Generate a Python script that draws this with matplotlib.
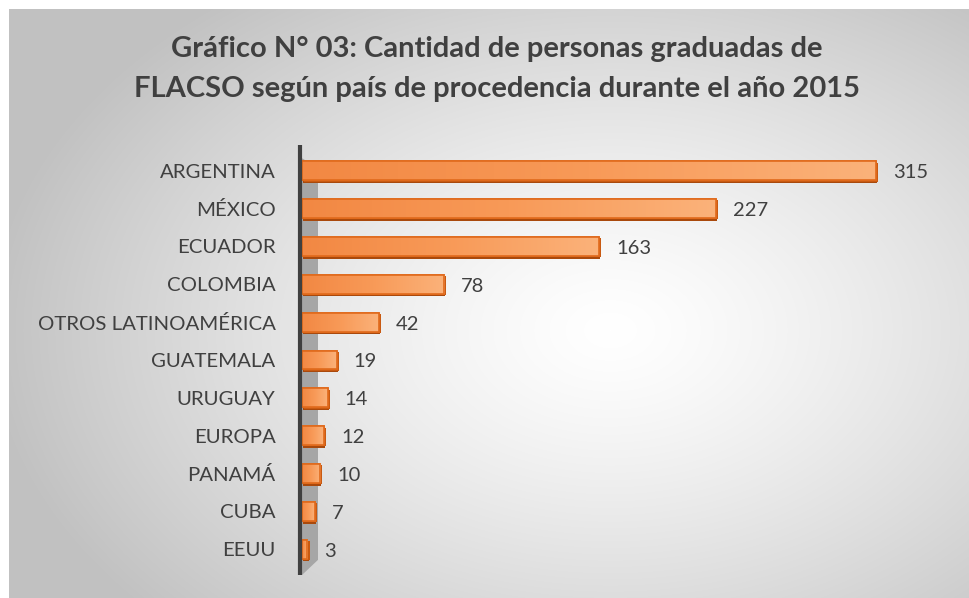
import numpy as np
import matplotlib
matplotlib.use("Agg")
import matplotlib.pyplot as plt
from matplotlib.patches import Polygon, Rectangle
from matplotlib.colors import LinearSegmentedColormap

categories = ["ARGENTINA", "MÉXICO", "ECUADOR", "COLOMBIA", "OTROS LATINOAMÉRICA",
              "GUATEMALA", "URUGUAY", "EUROPA", "PANAMÁ", "CUBA", "EEUU"]
values = [315, 227, 163, 78, 42, 19, 14, 12, 10, 7, 3]
title = "Gráfico N° 03: Cantidad de personas graduadas de\nFLACSO según país de procedencia durante el año 2015"

W, H = 970, 598
fig = plt.figure(figsize=(W / 100, H / 100), dpi=100)
fig.patch.set_facecolor("white")

# background radial gradient panel
bg = fig.add_axes([0, 0, 1, 1], zorder=-10)
bg.set_xlim(0, W); bg.set_ylim(H, 0); bg.axis("off")
yy, xx = np.mgrid[0:H, 0:W]
cx, cy = 610, 330
r = np.sqrt(((xx - cx) / 620.0) ** 2 + ((yy - cy) / 420.0) ** 2)
g = np.clip(1.0 - 0.24 * r ** 1.3, 0.76, 1.0)
img = np.dstack([g, g, g])
img[:9, :, :] = 1.0
img[:, :9, :] = 1.0
bg.imshow(img, extent=(0, W, H, 0), interpolation="bilinear", aspect="auto")

fig.text(497 / W, 1 - 69 / H, title, ha="center", va="center", fontsize=21,
         fontweight="bold", color="#404040", family=["Lato", "DejaVu Sans"],
         linespacing=1.62)

ax_left, ax_right = 297 / W, 960 / W
ax = fig.add_axes([ax_left, 23 / H, ax_right - ax_left, 430 / H])
ax.set_facecolor("none")
px = 1.822  # px per unit
xlim = (-5 / px, (960 - 297 - 5) / px)
ylim = (10.68, -0.68)

y = np.arange(len(categories))
bh = 0.5
dy = 0.07

# depth (shadow) bars
ax.barh(y + dy, values, height=bh, left=0.6, color="#A9490C", edgecolor="none", zorder=2)
ax.barh(y + dy * 0.5, values, height=bh, left=1.2, color="#C85A12", edgecolor="none", zorder=2)
bars = ax.barh(y, values, height=bh, left=0, color="#F79646", edgecolor="#E06A1C", linewidth=1.2, zorder=3)

grad = np.linspace(0, 1, 256).reshape(1, -1)
cmap = LinearSegmentedColormap.from_list("o", ["#F28843", "#F89A58", "#FBB27A"])
for b in bars:
    x0, y0 = b.get_x(), b.get_y()
    w, h = b.get_width(), b.get_height()
    im = ax.imshow(grad, extent=(x0, x0 + w, y0 + h, y0), cmap=cmap, aspect="auto",
                   interpolation="bilinear", zorder=3.5)
    im.set_clip_path(b)
    ax.add_patch(Rectangle((x0, y0), w, h, fill=False, edgecolor="#E06A1C", lw=1.2, zorder=4))
ax.set_xlim(*xlim)
ax.set_ylim(*ylim)

# 3D wall next to axis
wall = Polygon([(0, -0.68 + 0.35), (16 / px, -0.68 + 0.6), (16 / px, 10.68 - 0.4), (0, 10.68)],
               closed=True, facecolor="#A6A6A6", edgecolor="none", zorder=1)
ax.add_patch(wall)
ax.axvline(-2.5 / px, color="#404040", lw=3, zorder=5)

for yi, v in zip(y, values):
    ax.text(v + 17 / px, yi + 0.05, str(v), va="center", ha="left", fontsize=14.5,
            color="#404040", family=["Lato", "DejaVu Sans"])

ax.set_yticks(y)
ax.set_yticklabels(categories, fontsize=14.7, color="#404040", family=["Lato", "DejaVu Sans"])
ax.tick_params(axis="y", length=0, pad=15.5)
ax.set_xticks([])
for s in ax.spines.values():
    s.set_visible(False)

fig.savefig("out.png", dpi=100)
